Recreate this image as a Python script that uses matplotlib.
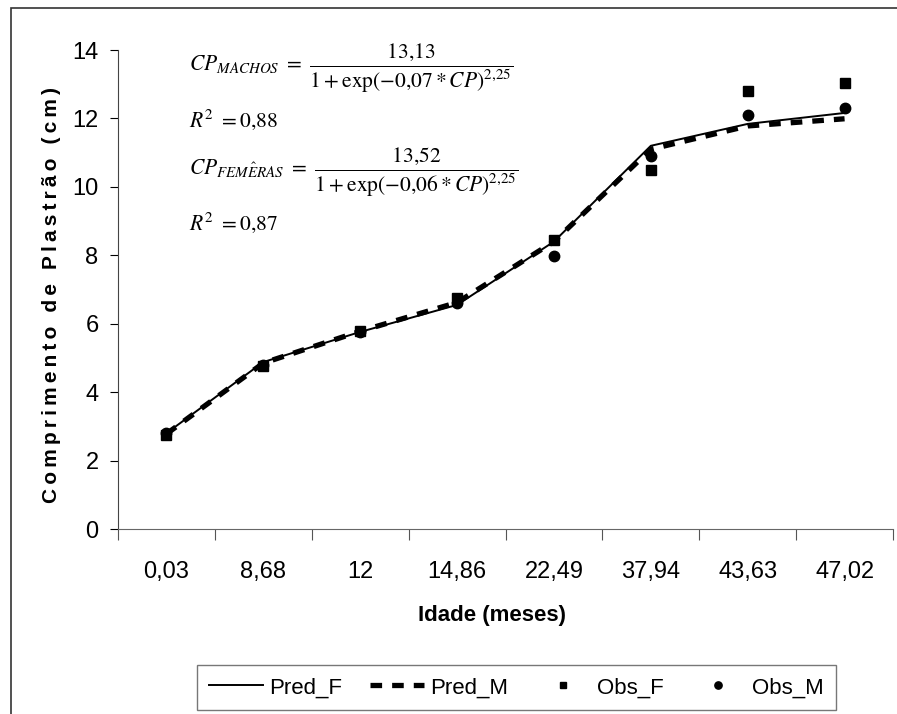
import matplotlib.pyplot as plt
from matplotlib.patches import Rectangle

plt.rcParams['font.family'] = ['Liberation Sans', 'DejaVu Sans']
plt.rcParams['mathtext.fontset'] = 'stix'

# data
idade = ["0,03", "8,68", "12", "14,86", "22,49", "37,94", "43,63", "47,02"]
pred_f = [2.80, 4.88, 5.76, 6.55, 8.40, 11.20, 11.84, 12.16]
pred_m = [2.78, 4.85, 5.78, 6.62, 8.40, 11.10, 11.78, 11.99]
obs_f = [2.75, 4.75, 5.80, 6.75, 8.45, 10.50, 12.80, 13.04]
obs_m = [2.80, 4.80, 5.75, 6.60, 7.98, 10.90, 12.10, 12.30]

W, H = 897, 714
fig = plt.figure(figsize=(W / 100, H / 100), dpi=100)
ax = fig.add_axes([118/W, 1 - 529/H, 775/W, 479/H])

x = range(len(idade))
ax.plot(x, pred_f, color='black', lw=1.4, label='Pred_F')
ax.plot(x, pred_m, color='black', lw=3.8, dashes=(2.2, 1.9), label='Pred_M')
ax.plot(x, obs_f, 's', color='black', ms=7, label='Obs_F', ls='none')
ax.plot(x, obs_m, 'o', color='black', ms=7.5, label='Obs_M', ls='none')

ax.set_xlim(-0.5, len(idade) - 0.5)
ax.set_ylim(0, 14)
ax.set_yticks(range(0, 15, 2))
ax.set_xticks([i + 0.5 for i in range(-1, len(idade))])
ax.set_xticklabels([])
ax.set_xticks(list(x), minor=True)
ax.set_xticklabels(idade, minor=True, fontsize=17)
ax.tick_params(axis='x', which='minor', length=0, pad=23)
ax.tick_params(axis='x', which='major', length=8, direction='out', color='#555555')
ax.tick_params(axis='y', length=6, direction='out', labelsize=17, pad=8)
for s in ['top', 'right']:
    ax.spines[s].set_visible(False)
ax.spines['left'].set_color('#444444')
ax.spines['bottom'].set_color('#666666')

sp = '\u2009'
fig.text(492/W, 1 - 615/H, 'Idade (meses)', fontsize=16, fontweight='bold',
         ha='center', va='center')
fig.text(52/W, 1 - 295/H, sp.join('Comprimento de Plastrão (cm)'), fontsize=15,
         fontweight='bold', rotation=90, ha='center', va='center')

# equations
eq_x = 189 / W
fig.text(eq_x, 1 - 68/H,
         r'$CP_{\mathit{MACHOS}}\ =\ \dfrac{13{,}13}{1+\exp(-0{,}07*CP)^{2{,}25}}$',
         fontsize=15.5, va='center')
fig.text(eq_x, 1 - 120/H, r'$R^{2}\ =0{,}88$', fontsize=15.5, va='center')
fig.text(eq_x, 1 - 172/H,
         r'$CP_{\mathit{FEM\hat{E}RAS}}\ =\ \dfrac{13{,}52}{1+\exp(-0{,}06*CP)^{2{,}25}}$',
         fontsize=15.5, va='center')
fig.text(eq_x, 1 - 223/H, r'$R^{2}\ =0{,}87$', fontsize=15.5, va='center')

# outer frame
fig.patches.append(Rectangle((11/W, -0.1), 1.2, 1 - 8/H + 0.1,
                             transform=fig.transFigure, fill=False,
                             edgecolor='#333333', lw=1.2))

leg = fig.legend(loc='upper left', bbox_to_anchor=(197/W, 1 - 665/H), ncol=4,
                 frameon=True, fancybox=False, edgecolor='#555555', fontsize=16,
                 handlelength=2.4, handletextpad=0.3, columnspacing=1.27,
                 borderpad=0.55, borderaxespad=0, markerscale=0.7)
leg.get_frame().set_linewidth(1.0)

fig.savefig('out.png', dpi=100)
